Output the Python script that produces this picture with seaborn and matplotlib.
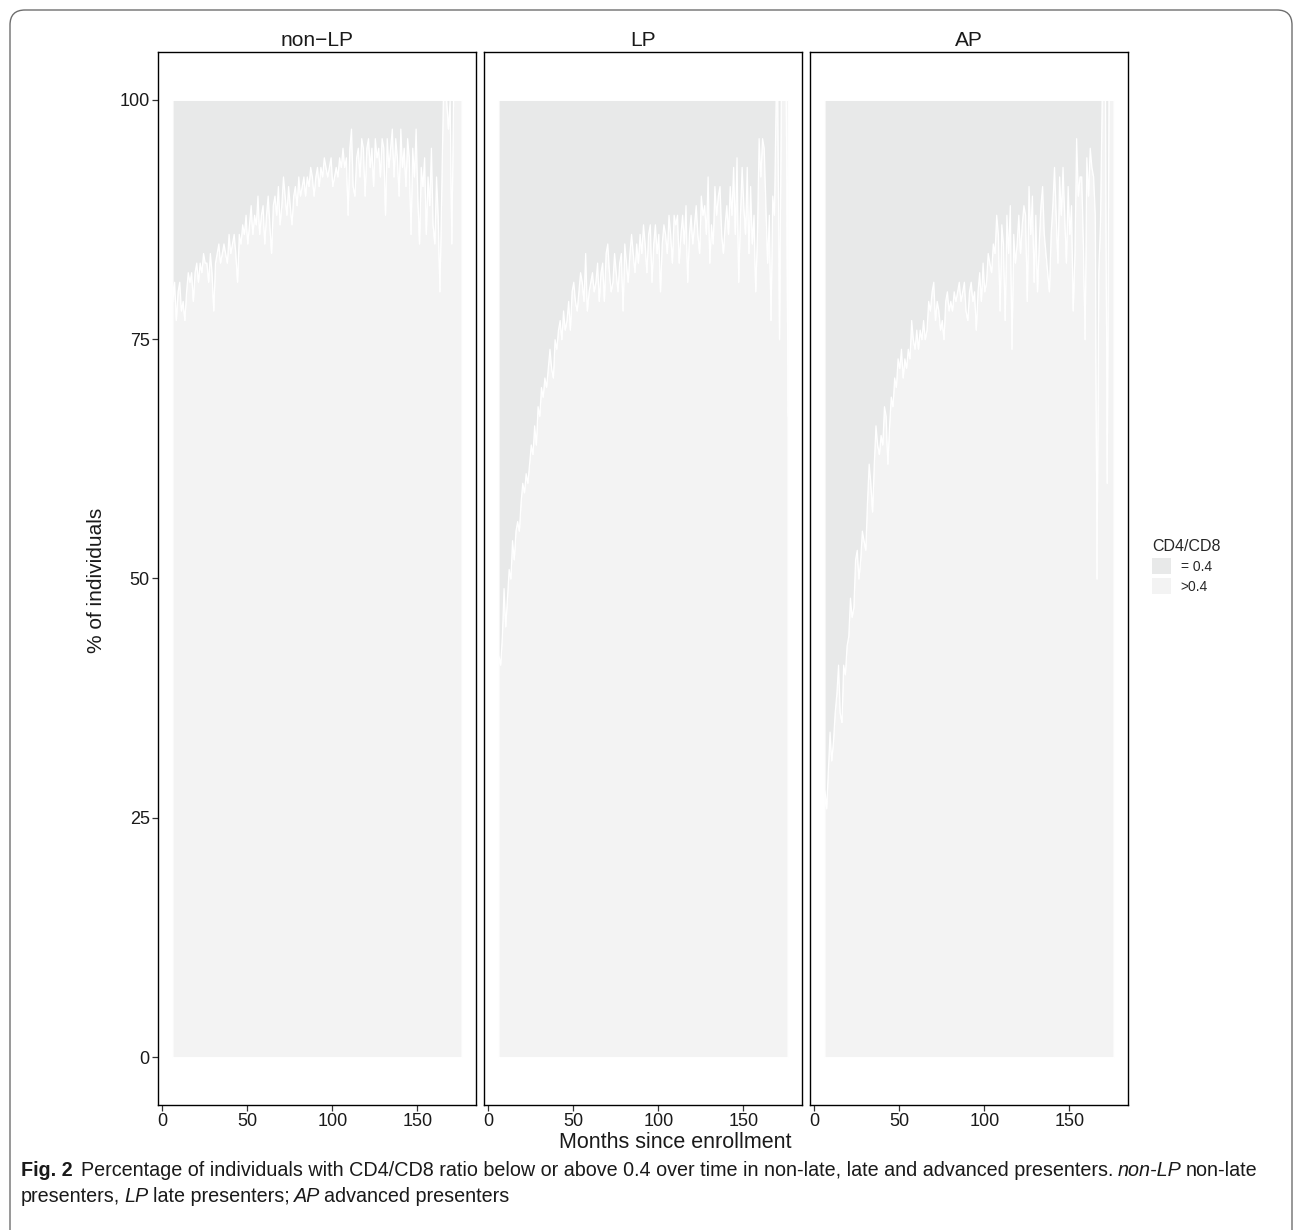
import numpy as np
import pandas as pd
import matplotlib
matplotlib.use("Agg")
import matplotlib.pyplot as plt
from matplotlib.patches import Patch, FancyBboxPatch
import seaborn as sns

# months since enrollment, one value per month
months = list(range(6, 177))
groups = ["non\u2212LP", "LP", "AP"]

# % of individuals with CD4/CD8 > 0.4
non_lp = [79, 81, 77, 80, 81, 78, 79, 77, 80, 82,
          81, 82, 79, 82, 83, 81, 83, 82, 84, 83,
          83, 81, 84, 82, 78, 83, 84, 85, 83, 84,
          85, 84, 83, 86, 84, 85, 86, 84, 81, 86,
          85, 87, 86, 88, 85, 87, 89, 86, 88, 87,
          90, 86, 88, 89, 85, 88, 90, 87, 84, 89,
          90, 88, 91, 87, 89, 92, 90, 88, 91, 89,
          87, 90, 91, 89, 92, 90, 91, 92, 90, 92,
          91, 93, 92, 90, 92, 93, 91, 93, 92, 94,
          93, 92, 93, 94, 91, 92, 93, 92, 94, 93,
          95, 93, 94, 88, 95, 97, 91, 90, 94, 95,
          92, 96, 95, 90, 95, 96, 93, 95, 91, 96,
          94, 95, 92, 96, 95, 88, 96, 93, 95, 97,
          92, 96, 94, 90, 97, 93, 95, 91, 96, 94,
          86, 95, 92, 97, 90, 85, 93, 91, 94, 86,
          92, 89, 95, 87, 85, 92, 88, 80, 90, 100,
          100, 100, 97, 100, 85, 100, 100, 100, 100, 100, 100]

lp = [42, 41, 44, 49, 45, 48, 51, 50, 54, 52,
      55, 56, 55, 58, 60, 59, 61, 60, 62, 64,
      63, 66, 64, 68, 67, 70, 69, 71, 70, 72,
      74, 72, 71, 75, 74, 76, 77, 75, 78, 76,
      77, 79, 76, 80, 81, 79, 78, 80, 82, 81,
      79, 84, 78, 80, 81, 82, 80, 81, 83, 79,
      82, 83, 79, 84, 85, 82, 80, 81, 84, 82,
      80, 83, 84, 78, 85, 83, 81, 84, 86, 84,
      82, 85, 83, 86, 84, 87, 85, 82, 86, 87,
      81, 85, 87, 84, 86, 80, 85, 87, 86, 84,
      88, 86, 83, 88, 87, 88, 83, 86, 88, 85,
      89, 81, 86, 88, 85, 87, 89, 86, 84, 90,
      88, 89, 86, 92, 83, 87, 85, 91, 88, 90,
      91, 86, 84, 87, 89, 86, 91, 88, 93, 86,
      94, 81, 88, 93, 89, 86, 93, 84, 91, 85,
      88, 80, 86, 96, 92, 96, 95, 89, 83, 88,
      77, 90, 88, 100, 100, 75, 100, 100, 100, 100, 67]

ap = [28, 26, 30, 34, 31, 33, 36, 38, 41, 36,
      35, 41, 40, 43, 44, 48, 46, 47, 52, 53,
      50, 52, 55, 54, 53, 58, 62, 60, 57, 62,
      66, 64, 63, 65, 64, 68, 67, 62, 66, 69,
      68, 71, 70, 73, 72, 74, 71, 73, 72, 74,
      73, 77, 75, 74, 76, 74, 76, 75, 77, 75,
      76, 79, 78, 80, 81, 77, 79, 78, 76, 77,
      75, 79, 80, 78, 79, 78, 80, 79, 80, 81,
      79, 80, 81, 78, 77, 80, 81, 79, 80, 76,
      80, 82, 79, 83, 80, 81, 84, 83, 82, 85,
      84, 88, 86, 78, 87, 85, 77, 88, 84, 89,
      74, 86, 83, 85, 88, 84, 87, 89, 88, 79,
      91, 86, 90, 81, 88, 80, 85, 89, 91, 86,
      84, 82, 80, 86, 89, 93, 88, 83, 92, 88,
      93, 88, 83, 91, 86, 89, 78, 84, 96, 90,
      92, 92, 85, 75, 94, 90, 95, 93, 92, 88,
      50, 82, 87, 100, 100, 100, 60, 100, 100, 100, 100]

legend_title = "CD4/CD8"
legend_labels = ["= 0.4", ">0.4"]
x_ticks = [0, 50, 100, 150]
y_ticks = [0, 25, 50, 75, 100]

col_low = "#e8e9e9"   # ratio <= 0.4
col_high = "#f3f3f3"  # ratio > 0.4

sns.set_theme(style="white")
plt.rcParams['font.family'] = ['Liberation Sans', 'DejaVu Sans']

df = pd.DataFrame({
    "group": np.repeat(groups, len(months)),
    "month": months * 3,
    "above": non_lp + lp + ap,
})


def draw_area(data, **kws):
    ax = plt.gca()
    ax.fill_between(data["month"], 0, data["above"], facecolor=col_high,
                    edgecolor="white", lw=0.9)
    ax.fill_between(data["month"], data["above"], 100, facecolor=col_low,
                    edgecolor="white", lw=0.9)


g = sns.FacetGrid(df, col="group", col_order=groups, height=10, aspect=0.3,
                  sharex=True, sharey=True, despine=False)
g.map_dataframe(draw_area)
g.set_axis_labels("", "")
fig = g.figure
fig.set_size_inches(12.95, 12.30)

for i, (ax, name) in enumerate(zip(g.axes.flat, groups)):
    ax.set_title(name, fontsize=15, pad=4, color="#1a1a1a")
    ax.set_xlim(-2.5, 184.5)
    ax.set_ylim(-5, 105)
    ax.set_xticks(x_ticks)
    ax.set_yticks(y_ticks)
    for s in ax.spines.values():
        s.set_visible(True)
        s.set_color("black")
        s.set_linewidth(1.0)
    ax.tick_params(axis="x", bottom=True, direction="out", length=4, width=0.9,
                   color="#333333", labelsize=13, labelcolor="#1a1a1a", pad=2)
    ax.tick_params(axis="y", left=(i == 0), labelleft=(i == 0), direction="out",
                   length=4, width=0.9, color="#333333", labelsize=13,
                   labelcolor="#1a1a1a", pad=2)
    ax.grid(False)

fig.subplots_adjust(left=158 / 1295, right=1128 / 1295, bottom=1 - 1105 / 1230,
                    top=1 - 52 / 1230, wspace=8 / 318)

fig.text(675 / 1295, 1 - 1143 / 1230, "Months since enrollment", fontsize=15.5,
         ha="center", va="center", color="#1a1a1a")
fig.text(97 / 1295, 1 - 580 / 1230, "% of individuals", fontsize=15,
         ha="center", va="center", rotation=90, color="#1a1a1a")

handles = [Patch(facecolor=col_low, edgecolor="none"),
           Patch(facecolor=col_high, edgecolor="none")]
fig.legend(handles=handles, labels=legend_labels, title=legend_title,
           loc="upper left", bbox_to_anchor=(1152 / 1295, 1 - 539 / 1230),
           frameon=False, fontsize=10, title_fontsize=11.5, handlelength=1.37,
           handleheight=1.37, labelspacing=0.3, handletextpad=0.7,
           alignment="left", borderaxespad=0, borderpad=0)

# outer rounded frame
frame = FancyBboxPatch((0.10, -0.5), 12.82, 12.70,
                       boxstyle="round,pad=0,rounding_size=0.15",
                       transform=fig.dpi_scale_trans, facecolor="none",
                       edgecolor="#6e6e6e", lw=1.0)
fig.patches.append(frame)

# caption with mixed styles
cap_font = ['Liberation Sans', 'DejaVu Sans']
cap_size = 14.2
r = fig.canvas.get_renderer()


def caption_line(pieces, x_px, y_px):
    x = x_px
    for txt, weight, style in pieces:
        t = fig.text(x / 1295, 1 - y_px / 1230, txt, fontsize=cap_size,
                     family=cap_font, weight=weight, style=style,
                     va="center", ha="left", color="#1a1a1a")
        bb = t.get_window_extent(renderer=r)
        x = bb.x1 + cap_size * 0.3


caption_line([("Fig. 2", "bold", "normal"),
              ("\u2009Percentage of individuals with CD4/CD8 ratio below or above 0.4 over time in non-late, late and advanced presenters.",
               "normal", "normal"),
              ("non-LP", "normal", "italic"),
              ("non-late", "normal", "normal")], 21, 1170)
caption_line([("presenters,", "normal", "normal"),
              ("LP", "normal", "italic"),
              ("late presenters;", "normal", "normal"),
              ("AP", "normal", "italic"),
              ("advanced presenters", "normal", "normal")], 21, 1197)

fig.savefig("out.png", dpi=100)
